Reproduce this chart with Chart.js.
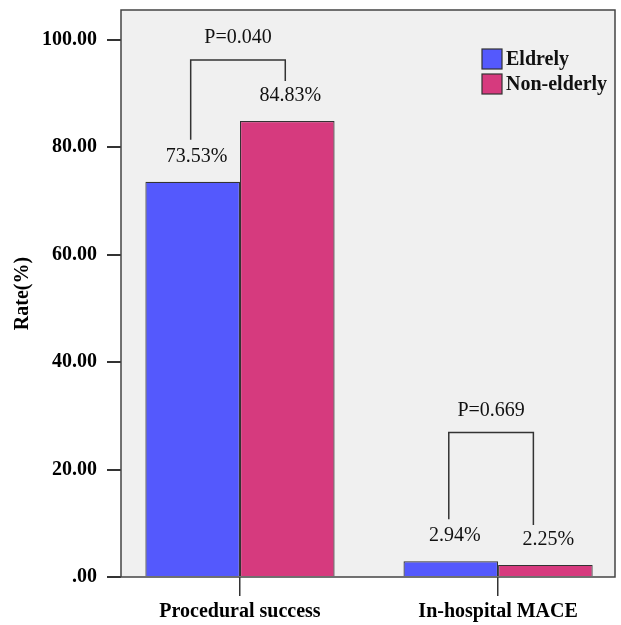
<!DOCTYPE html>
<html>
<head>
<meta charset="utf-8">
<script src="https://cdn.jsdelivr.net/npm/chart.js@4/dist/chart.umd.min.js"></script>
<style>
  html, body { margin: 0; padding: 0; background: #fff; }
  canvas { display: block; }
</style>
</head>
<body>
<canvas id="rateChart" width="621" height="625"></canvas>
<script>
// chart values
const categories = ['Procedural success', 'In-hospital MACE'];
const eldrely = [73.53, 2.94];
const nonElderly = [84.83, 2.25];
const pValues = ['P=0.040', 'P=0.669'];
const bracketTops = [96.2, 26.9];
const yTicks = [0, 20, 40, 60, 80, 100];

const serif = "'Liberation Serif', 'Times New Roman', serif";

// grey plot panel and its frame
const panelPlugin = {
    id: 'panel',
    beforeDatasetsDraw(chart) {
        const { ctx, chartArea: a } = chart;
        ctx.save();
        ctx.fillStyle = '#f0f0f0';
        ctx.fillRect(a.left, a.top, a.right - a.left, a.bottom - a.top);
        ctx.restore();
    },
    afterDatasetsDraw(chart) {
        const { ctx, chartArea: a } = chart;
        ctx.save();
        ctx.strokeStyle = '#444';
        ctx.lineWidth = 1.5;
        ctx.strokeRect(a.left, a.top, a.right - a.left, a.bottom - a.top);
        ctx.restore();
    }
};

// value labels, P-value brackets, legend
const notesPlugin = {
    id: 'notes',
    afterDraw(chart) {
        const { ctx } = chart;
        const y = chart.scales.y;
        const blue = chart.getDatasetMeta(0).data;
        const pink = chart.getDatasetMeta(1).data;
        ctx.save();
        ctx.fillStyle = '#111';
        ctx.textAlign = 'center';
        ctx.textBaseline = 'middle';
        ctx.font = '20px ' + serif;

        const rightShift = [-2, -12];
        categories.forEach((c, i) => {
            const b = blue[i], p = pink[i];
            const by = b.y - 25, py = p.y - 25;
            ctx.fillText(eldrely[i].toFixed(2) + '%', b.x + 4, by);
            ctx.fillText(nonElderly[i].toFixed(2) + '%', p.x + 3, py);

            const top = y.getPixelForValue(bracketTops[i]);
            const lx = b.x - 2, rx = p.x + rightShift[i];
            ctx.strokeStyle = '#333';
            ctx.lineWidth = 1.5;
            ctx.beginPath();
            ctx.moveTo(lx, by - 17);
            ctx.lineTo(lx, top);
            ctx.lineTo(rx, top);
            ctx.lineTo(rx, py - 15);
            ctx.stroke();
            ctx.fillText(pValues[i], (lx + rx) / 2, top - 22);
        });

        // legend
        ctx.textAlign = 'left';
        ctx.font = 'bold 20px ' + serif;
        chart.data.datasets.forEach((ds, i) => {
            const bx = 482, byy = 49 + i * 25;
            ctx.fillStyle = ds.backgroundColor;
            ctx.fillRect(bx, byy, 20, 20);
            ctx.strokeStyle = '#333';
            ctx.lineWidth = 1.2;
            ctx.strokeRect(bx, byy, 20, 20);
            ctx.fillStyle = '#111';
            ctx.fillText(ds.label, bx + 24, byy + 11);
        });
        ctx.restore();
    }
};

new Chart(document.getElementById('rateChart'), {
    type: 'bar',
    data: {
        datasets: [
            {
                label: 'Eldrely',
                data: eldrely.map((v, i) => ({ x: i, y: v })),
                backgroundColor: '#5459fd',
                borderColor: '#333',
                borderWidth: 1.2
            },
            {
                label: 'Non-elderly',
                data: nonElderly.map((v, i) => ({ x: i, y: v })),
                backgroundColor: '#d63a7e',
                borderColor: '#333',
                borderWidth: 1.2
            }
        ]
    },
    options: {
        responsive: false,
        devicePixelRatio: 1,
        animation: false,
        categoryPercentage: 0.733,
        barPercentage: 1,
        layout: { padding: { left: 0, top: 10, right: 6, bottom: 0 } },
        plugins: {
            legend: { display: false },
            tooltip: { enabled: false }
        },
        scales: {
            x: {
                type: 'linear',
                offset: false,
                min: -0.461,
                max: 1.453,
                afterBuildTicks: s => { s.ticks = categories.map((c, i) => ({ value: i })); },
                afterFit: s => { s.height = 48; s.paddingLeft = 0; s.paddingRight = 0; },
                ticks: {
                    callback: v => categories[v],
                    autoSkip: false,
                    color: '#000',
                    font: { family: serif, size: 20, weight: 'bold' },
                    padding: 4,
                    maxRotation: 0
                },
                grid: {
                    offset: false,
                    drawOnChartArea: false,
                    drawTicks: true,
                    tickLength: 19,
                    color: '#333',
                    lineWidth: 1.5
                },
                border: { display: false }
            },
            y: {
                min: 0,
                max: 105.5,
                afterBuildTicks: s => { s.ticks = yTicks.map(v => ({ value: v })); },
                afterFit: s => { s.width = 121; s.paddingTop = 0; s.paddingBottom = 0; },
                ticks: {
                    callback: v => v === 0 ? '.00' : v.toFixed(2),
                    color: '#000',
                    font: { family: serif, size: 20, weight: 'bold' },
                    padding: 10
                },
                grid: {
                    drawOnChartArea: false,
                    drawTicks: true,
                    tickLength: 14,
                    color: '#333',
                    lineWidth: 2
                },
                border: { display: false },
                title: {
                    display: true,
                    text: 'Rate(%)',
                    color: '#000',
                    font: { family: serif, size: 20, weight: 'bold' },
                    padding: { top: 11, bottom: 0 }
                }
            }
        }
    },
    plugins: [panelPlugin, notesPlugin]
});
</script>
</body>
</html>
